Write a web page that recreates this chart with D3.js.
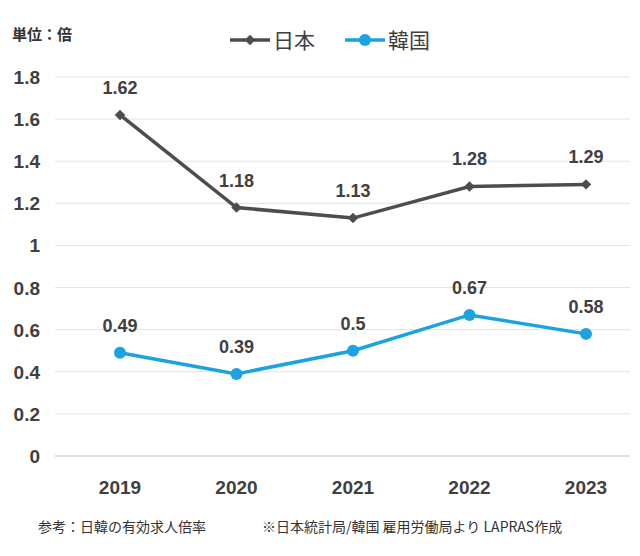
<!DOCTYPE html><html><head><meta charset="utf-8">
<script src="https://cdn.jsdelivr.net/npm/d3@7"></script>
<style>body{margin:0;background:#fff;font-family:"Noto Sans CJK JP","Noto Sans",sans-serif}</style></head><body>
<svg id="c" width="640" height="556"></svg>
<script>
const years=["2019","2020","2021","2022","2023"];
const japan=[1.62,1.18,1.13,1.28,1.29];
const korea=[0.49,0.39,0.5,0.67,0.58];
const yTicks=[0,0.2,0.4,0.6,0.8,1,1.2,1.4,1.6,1.8];
const svg=d3.select("#c");
const x=d3.scalePoint().domain(years).range([120,586]);
const y=d3.scaleLinear().domain([0,1.8]).range([456,77]);
const jc="#4d4d4d",kc="#1aa3e0";
svg.append("g").selectAll("line").data(yTicks).join("line")
 .attr("x1",55).attr("x2",630).attr("y1",d=>y(d)).attr("y2",d=>y(d))
 .attr("stroke",d=>d===0?"#bfbfbf":"#e3e3e3").attr("stroke-width",1);
svg.append("g").selectAll("text").data(yTicks).join("text")
 .attr("x",40).attr("y",d=>y(d)+7).attr("text-anchor","end")
 .attr("font-size",19).attr("font-weight","bold").attr("fill","#404040")
 .attr("font-family","Liberation Sans, Arial, sans-serif").text(d=>d);
svg.append("g").selectAll("text").data(years).join("text")
 .attr("x",d=>x(d)).attr("y",494).attr("text-anchor","middle")
 .attr("font-size",19).attr("font-weight","bold").attr("fill","#404040")
 .attr("font-family","Liberation Sans, Arial, sans-serif").text(d=>d);
function series(vals,col,marker){
 const line=d3.line().x((d,i)=>x(years[i])).y(d=>y(d));
 svg.append("path").datum(vals).attr("d",line).attr("fill","none").attr("stroke",col).attr("stroke-width",3.5);
 const g=svg.append("g");
 vals.forEach((v,i)=>{
  if(marker==="d") g.append("path").attr("d",d3.symbol(d3.symbolDiamond2,70)()).attr("transform",`translate(${x(years[i])},${y(v)})`).attr("fill",col);
  else g.append("circle").attr("cx",x(years[i])).attr("cy",y(v)).attr("r",6).attr("fill",col);
  g.append("text").attr("x",x(years[i])).attr("y",y(v)-21).attr("text-anchor","middle")
   .attr("font-size",18).attr("font-weight","bold").attr("fill","#404040")
   .attr("font-family","Liberation Sans, Arial, sans-serif").text(v);
 });
}
series(japan,jc,"d");series(korea,kc,"c");
// legend
svg.append("line").attr("x1",230).attr("x2",270).attr("y1",40).attr("y2",40).attr("stroke",jc).attr("stroke-width",3.5);
svg.append("path").attr("d",d3.symbol(d3.symbolDiamond2,70)()).attr("transform","translate(250,40)").attr("fill",jc);
svg.append("text").attr("x",273).attr("y",48).attr("font-size",21).attr("fill","#404040").text("日本");
svg.append("line").attr("x1",345).attr("x2",385).attr("y1",40).attr("y2",40).attr("stroke",kc).attr("stroke-width",3.5);
svg.append("circle").attr("cx",365).attr("cy",40).attr("r",6).attr("fill",kc);
svg.append("text").attr("x",388).attr("y",48).attr("font-size",21).attr("fill","#404040").text("韓国");
svg.append("text").attr("x",12).attr("y",40).attr("font-size",15).attr("font-weight","bold").attr("fill","#333").text("単位：倍");
svg.append("text").attr("x",38).attr("y",532).attr("font-size",14).attr("fill","#333").text("参考：日韓の有効求人倍率");
svg.append("text").attr("x",262).attr("y",532).attr("font-size",14).attr("fill","#333").text("※日本統計局/韓国 雇用労働局より LAPRAS作成");
</script></body></html>
